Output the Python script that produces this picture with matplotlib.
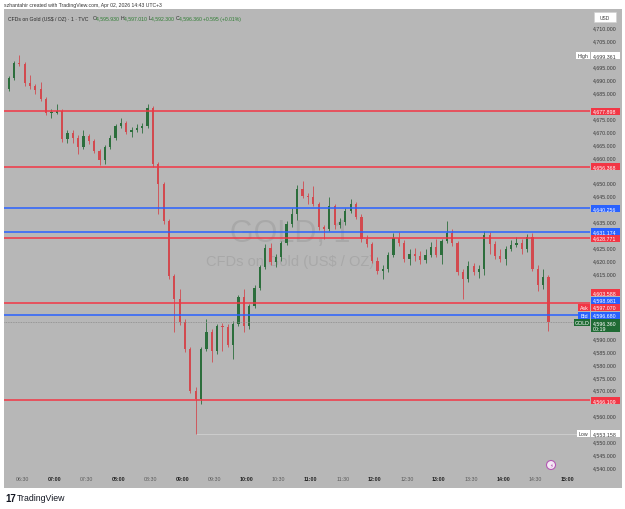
import matplotlib
matplotlib.use("Agg")
import matplotlib.pyplot as plt
from matplotlib.patches import Rectangle, Circle
from matplotlib.transforms import Affine2D, blended_transform_factory

plt.rcParams['font.family'] = ['Liberation Sans', 'DejaVu Sans']

# ---------------- data ----------------
session_start_min = 6 * 60 + 15      # first bar 06:15
bar_minutes = 5

opens = [4686.4, 4690.7, 4696.5, 4696.1, 4688.8, 4687.6, 4686.4, 4682.6, 4677.2, 4677.2,
         4677.9, 4667.1, 4669.4, 4667.5, 4664.0, 4668.3, 4666.3, 4662.5, 4659.0, 4664.0,
         4667.5, 4672.1, 4673.3, 4669.8, 4670.6, 4671.4, 4672.1, 4679.1, 4657.5, 4649.7,
         4635.4, 4614.2, 4605.3, 4596.4, 4586.0, 4569.7, 4566.6, 4586.0, 4592.5, 4585.2,
         4594.9, 4594.5, 4587.5, 4595.6, 4606.1, 4594.9, 4602.6, 4609.5, 4617.7, 4625.0,
         4619.6, 4621.5, 4626.9, 4634.3, 4638.1, 4647.8, 4645.1, 4644.7, 4642.0, 4633.1,
         4632.3, 4641.2, 4633.9, 4635.0, 4639.3, 4642.0, 4637.0, 4628.5, 4626.5, 4620.0,
         4616.1, 4616.9, 4622.3, 4628.9, 4626.9, 4620.7, 4622.7, 4621.9, 4620.4, 4622.3,
         4625.4, 4622.3, 4627.7, 4630.8, 4626.9, 4615.7, 4613.0, 4618.0, 4615.7, 4616.9,
         4630.0, 4626.5, 4621.9, 4620.7, 4624.6, 4626.2, 4626.9, 4624.6, 4629.2, 4616.9,
         4610.7, 4613.8]
highs = [4691.5, 4697.3, 4699.4, 4696.9, 4691.8, 4688.4, 4689.1, 4683.3, 4678.7, 4680.6,
         4678.7, 4670.6, 4670.6, 4668.7, 4670.6, 4669.0, 4667.1, 4663.2, 4664.8, 4668.7,
         4672.9, 4675.2, 4674.1, 4671.7, 4672.9, 4673.3, 4680.6, 4679.9, 4658.2, 4650.5,
         4636.2, 4615.0, 4609.2, 4597.6, 4586.7, 4571.3, 4586.7, 4597.6, 4593.7, 4595.6,
         4596.0, 4595.6, 4596.8, 4606.8, 4609.2, 4603.4, 4610.7, 4618.4, 4626.5, 4626.9,
         4622.7, 4627.7, 4635.4, 4640.5, 4649.3, 4650.9, 4646.2, 4648.9, 4642.8, 4633.9,
         4644.7, 4642.0, 4636.6, 4640.5, 4643.9, 4642.8, 4638.1, 4630.0, 4627.3, 4621.5,
         4618.4, 4623.4, 4630.8, 4631.2, 4628.1, 4624.6, 4625.0, 4623.8, 4624.6, 4627.3,
         4628.5, 4628.5, 4635.4, 4632.3, 4627.7, 4616.9, 4620.0, 4619.2, 4618.4, 4631.6,
         4631.2, 4627.7, 4624.6, 4625.8, 4628.1, 4629.2, 4628.5, 4630.4, 4630.8, 4618.4,
         4616.9, 4614.6]
lows = [4685.7, 4689.9, 4695.3, 4687.6, 4686.4, 4684.5, 4681.8, 4676.4, 4675.2, 4676.8,
        4666.0, 4665.6, 4665.6, 4661.3, 4663.2, 4665.2, 4661.7, 4657.1, 4657.5, 4663.2,
        4666.7, 4671.4, 4669.0, 4667.9, 4669.8, 4669.4, 4671.4, 4656.3, 4638.1, 4634.3,
        4613.0, 4592.5, 4595.2, 4584.8, 4569.0, 4553.2, 4564.7, 4585.2, 4580.9, 4584.0,
        4585.2, 4586.7, 4582.1, 4594.9, 4592.5, 4593.7, 4601.8, 4608.8, 4616.9, 4618.4,
        4617.7, 4620.0, 4626.2, 4633.1, 4635.8, 4644.3, 4642.0, 4641.2, 4631.9, 4628.5,
        4631.6, 4632.3, 4632.7, 4633.9, 4638.5, 4636.2, 4627.3, 4625.4, 4619.2, 4615.0,
        4613.0, 4615.7, 4621.5, 4625.8, 4619.6, 4618.4, 4620.0, 4618.8, 4619.2, 4621.5,
        4621.5, 4618.8, 4626.9, 4625.8, 4614.6, 4605.3, 4611.9, 4614.6, 4613.4, 4614.6,
        4622.7, 4620.7, 4619.6, 4618.4, 4623.8, 4625.4, 4622.7, 4623.4, 4616.1, 4608.4,
        4609.2, 4592.9]
closes = [4690.7, 4696.5, 4696.1, 4688.8, 4687.6, 4686.0, 4682.6, 4677.2, 4677.2, 4677.9,
          4667.1, 4669.4, 4667.5, 4664.0, 4668.3, 4666.3, 4662.5, 4659.0, 4664.0, 4667.5,
          4672.1, 4673.3, 4669.8, 4670.6, 4671.4, 4672.1, 4679.1, 4657.5, 4649.7, 4635.4,
          4614.2, 4605.3, 4596.4, 4586.0, 4569.7, 4566.6, 4586.0, 4592.5, 4585.2, 4594.9,
          4594.5, 4587.5, 4595.6, 4606.1, 4594.9, 4602.6, 4609.5, 4617.7, 4625.0, 4619.6,
          4621.5, 4626.9, 4634.3, 4638.1, 4647.8, 4645.1, 4644.7, 4642.0, 4633.1, 4632.3,
          4641.2, 4633.9, 4635.0, 4639.3, 4642.0, 4637.0, 4628.5, 4626.5, 4620.0, 4616.1,
          4616.9, 4622.3, 4628.9, 4626.9, 4620.7, 4622.7, 4621.9, 4620.4, 4622.3, 4625.4,
          4622.3, 4627.7, 4630.8, 4626.9, 4615.7, 4613.0, 4618.0, 4615.7, 4616.9, 4630.0,
          4626.5, 4621.9, 4620.7, 4624.6, 4626.2, 4626.9, 4624.6, 4629.2, 4616.9, 4610.7,
          4613.8, 4596.36]

red_levels = [4677.898, 4656.368, 4628.771, 4603.588, 4566.109]
blue_levels = [4640.256, 4631.174, 4598.981]
last_price = 4596.360
ask_price = 4597.070
bid_price = 4596.680
session_high = 4699.361
session_low = 4553.158
price_ticks = list(range(4540, 4711, 5))
time_labels = ["06:30", "07:00", "07:30", "08:00", "08:30", "09:00", "09:30", "10:00",
               "10:30", "11:00", "11:30", "12:00", "12:30", "13:00", "13:30", "14:00",
               "14:30", "15:00"]
countdown = "00:19"
header_title = "CFDs on Gold (US$ / OZ) \u00b7 1 \u00b7 TVC"
header_ohlc = [("O", "4,595.930"), ("H", "4,597.010"), ("L", "4,592.300"), ("C", "4,596.360")]
header_change = "+0.595 (+0.01%)"
credit = "szhantahir created with TradingView.com, Apr 02, 2026 14:43 UTC+3"

# ---------------- layout ----------------
W, H = 625, 510
BG = '#b7b7b7'
UP = '#2c6e3c'
DOWN = '#d24a4f'
RED = '#f23645'
BLUE = '#2962ff'
TXT = '#3a3a3a'
GREEN_TXT = '#2e7d32'

fig = plt.figure(figsize=(W / 100, H / 100), dpi=100)
fig.patch.set_facecolor('white')
px = Affine2D().scale(1.0 / W, -1.0 / H).translate(0, 1) + fig.transFigure

# grey chart panel (pane + axes strips)
fig.add_artist(Rectangle((4, 10), 618, 479, transform=px, facecolor=BG,
                         edgecolor='none', zorder=-5))

pane_l, pane_r, pane_t, pane_b = 4, 590, 10, 473
ax = fig.add_axes([pane_l / W, 1 - pane_b / H, (pane_r - pane_l) / W, (pane_b - pane_t) / H])
ax.set_facecolor(BG)
for s in ax.spines.values():
    s.set_visible(False)
ax.set_xticks([])
ax.set_yticks([])

def hm(s):
    h, m = s.split(':')
    return int(h) * 60 + int(m)

ppx = 1.069  # pixels per minute
x_min = hm("06:30") - (22 - pane_l) / ppx
x_max = hm("06:30") + (pane_r - 22) / ppx
ax.set_xlim(x_min, x_max)
y_top = 4710 + (29 - pane_t) / 2.5875
y_bot = 4710 - (pane_b - 29) / 2.5875
ax.set_ylim(y_bot, y_top)
ppu = (pane_b - pane_t) / (y_top - y_bot)

def to_px(v):
    return pane_t + (y_top - v) * ppu

# watermark
ax.text(290, 234, "GOLD, 1", transform=px, ha='center', va='center', fontsize=22,
        color='#a8a8a8', zorder=0.5)
ax.text(290, 262, "CFDs on Gold (US$ / OZ)", transform=px, ha='center', va='center',
        fontsize=10.5, color='#a8a8a8', zorder=0.5)

# candles
n = len(closes)
xs = [session_start_min + bar_minutes * i + bar_minutes / 2 for i in range(n)]
body_w = bar_minutes * 0.42
for x, o, h, l, c in zip(xs, opens, highs, lows, closes):
    col = UP if c >= o else DOWN
    ax.vlines(x, l, h, color=col, linewidth=0.6, zorder=3)
    bot = min(o, c)
    ht = max(abs(c - o), 0.35)
    ax.add_patch(Rectangle((x - body_w / 2, bot), body_w, ht, facecolor=col,
                           edgecolor='none', zorder=3.1))

# horizontal levels
for v in red_levels:
    ax.axhline(v, color=RED, linewidth=1.1, zorder=4)
for v in blue_levels:
    ax.axhline(v, color=BLUE, linewidth=1.1, zorder=4)
ax.axhline(last_price, color='#8c8c8c', linewidth=0.6, linestyle=(0, (1, 1)), zorder=3.5)
low_x = xs[lows.index(min(lows))]
ax.hlines(session_low, low_x, x_max, color='#cfcfcf', linewidth=0.6, zorder=2)

# event icon
fig.add_artist(Circle((551, 466), 4.5, transform=px, facecolor='#f4e8f4',
                      edgecolor='#b457b4', linewidth=0.8, zorder=6))
fig.text(551, 466, "\u26A1", transform=px, fontsize=4, color='#b457b4',
         ha='center', va='center', family=['DejaVu Sans'], zorder=7)

ydata_xpx = blended_transform_factory(px, ax.transData)
FS = 3.8

box_spans = []

def price_box(value, text, fc, tc, dpx=0.0, h=7.0, text2=None):
    yc = value - dpx / ppu
    hh = h / 2 / ppu
    c_px = to_px(yc)
    box_spans.append((c_px - h / 2, c_px + h / 2))
    fig.add_artist(Rectangle((591, yc - hh), 29, 2 * hh, transform=ydata_xpx,
                             facecolor=fc, edgecolor='none', zorder=5))
    if text2 is None:
        fig.text(593, yc, text, transform=ydata_xpx, fontsize=FS, color=tc,
                 ha='left', va='center', zorder=6)
    else:
        fig.text(593, yc + 2.6 / ppu, text, transform=ydata_xpx, fontsize=FS, color=tc,
                 ha='left', va='center', zorder=6)
        fig.text(593, yc - 3.2 / ppu, text2, transform=ydata_xpx, fontsize=FS, color=tc,
                 ha='left', va='center', zorder=6)
    return yc

def pane_tag(yc, text, fc, tc, x0, w):
    hh = 3.5 / ppu
    fig.add_artist(Rectangle((x0, yc - hh), w, 2 * hh, transform=ydata_xpx,
                             facecolor=fc, edgecolor='none', zorder=5))
    fig.text(x0 + w / 2, yc, text, transform=ydata_xpx, fontsize=FS, color=tc,
             ha='center', va='center', zorder=6)

for v in red_levels:
    if v == 4603.588:
        continue
    price_box(v, f"{v:,.3f}", RED, 'white')
for v in blue_levels:
    if v == 4598.981:
        continue
    price_box(v, f"{v:,.3f}", BLUE, 'white')
price_box(4603.588, f"{4603.588:,.3f}", RED, 'white', dpx=-11)
price_box(4598.981, f"{4598.981:,.3f}", BLUE, 'white', dpx=-15)
ya = price_box(ask_price, f"{ask_price:,.3f}", RED, 'white', dpx=-13)
yb = price_box(bid_price, f"{bid_price:,.3f}", BLUE, 'white', dpx=-6)
yg = price_box(last_price, f"{last_price:,.3f}", '#1f6b34', 'white', dpx=3, h=13,
               text2=countdown)
yh = price_box(session_high, f"{session_high:,.3f}", 'white', TXT)
yl = price_box(session_low, f"{session_low:,.3f}", 'white', TXT)
pane_tag(ya, "Ask", RED, 'white', 578, 12)
pane_tag(yb, "Bid", BLUE, 'white', 578, 12)
pane_tag(last_price, "GOLD", '#1f6b34', 'white', 574, 16)
pane_tag(yh, "High", 'white', TXT, 576, 14)
pane_tag(yl, "Low", 'white', TXT, 577, 13)

# price axis tick labels (hidden where a price box sits, as in TradingView)
for v in price_ticks:
    p = to_px(v)
    if any(a - 2.5 < p < b + 2.5 for a, b in box_spans):
        continue
    fig.text(593, v, f"{v:,.3f}", transform=ydata_xpx, fontsize=FS, color=TXT,
             ha='left', va='center', zorder=3)

# time axis labels
xdata_ypx = blended_transform_factory(ax.transData, px)
for lab in time_labels:
    full_hour = lab.endswith(":00")
    fig.text(hm(lab), 480, lab, transform=xdata_ypx, fontsize=FS,
             color='#222222' if full_hour else '#5a5a5a',
             fontweight='bold' if full_hour else 'normal',
             ha='center', va='center', zorder=3)

# USD box
fig.add_artist(Rectangle((594, 13), 22, 10, transform=px, facecolor='white',
                         edgecolor='#d0d0d0', linewidth=0.4, zorder=5))
fig.text(605, 18, "USD", transform=px, fontsize=3.5, color=TXT, ha='center',
         va='center', zorder=6)

# credit line and header legend
fig.text(4, 5, credit, transform=px, fontsize=3.7, color='#333333', ha='left', va='center')
t = fig.text(8, 19, header_title, transform=px, fontsize=3.7, color='#2a2a2a',
             ha='left', va='center')
fig.canvas.draw()
r = fig.canvas.get_renderer()
xcur = 8 + t.get_window_extent(r).width + 4
for k, val in header_ohlc:
    for s, col in ((k, '#2a2a2a'), (val + " ", GREEN_TXT)):
        tt = fig.text(xcur, 19, s, transform=px, fontsize=3.7, color=col, ha='left', va='center')
        xcur += tt.get_window_extent(r).width
fig.text(xcur, 19, header_change, transform=px, fontsize=3.7, color=GREEN_TXT,
         ha='left', va='center')

# TradingView logo
fig.text(5, 499, "17", transform=px, fontsize=7, fontweight='bold', color='#131722',
         ha='left', va='center')
fig.text(17, 499, "TradingView", transform=px, fontsize=6.3, color='#131722',
         ha='left', va='center')

fig.savefig("out.png", dpi=100, facecolor='white')
